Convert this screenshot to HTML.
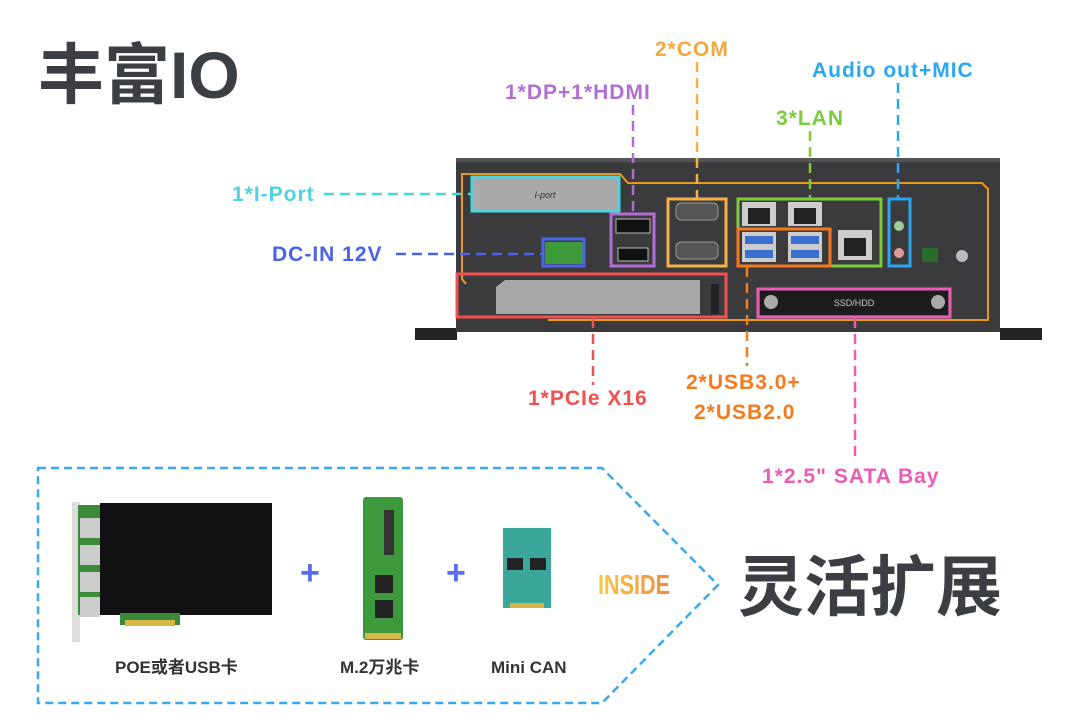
<!DOCTYPE html>
<html><head><meta charset="utf-8">
<style>
body{margin:0;width:1080px;height:720px;background:#fff;position:relative;overflow:hidden;font-family:"Liberation Sans","Noto Sans CJK SC",sans-serif}
.t{position:absolute;font-weight:bold;white-space:nowrap;line-height:1}
.l{font-size:21px;letter-spacing:1px}
</style></head><body>
<div class="t" style="left:38px;top:42px;font-size:66px;color:#3b3e42;letter-spacing:0px">丰富IO</div>

<svg width="1080" height="720" style="position:absolute;left:0;top:0">
 <rect x="415" y="328" width="42" height="12" fill="#222"/>
 <rect x="1000" y="328" width="42" height="12" fill="#222"/>
 <rect x="456" y="160" width="544" height="172" fill="#3b3b3d"/>
 <rect x="456" y="158" width="544" height="4" fill="#555"/>
 <polyline points="466,284 462,279 462,174 620,174 628,183 982,183 988,189 988,320 548,320" fill="none" stroke="#e89a1c" stroke-width="2"/>
 <rect x="472" y="177" width="147" height="34" fill="#a9a9a9"/>
 <text x="545" y="198" font-size="9" fill="#333" text-anchor="middle" font-style="italic" font-family="Liberation Sans">I-port</text>
 <rect x="545" y="242" width="38" height="22" fill="#3d9a3a"/>
 <rect x="616" y="219" width="34" height="14" fill="#111" stroke="#bbb"/>
 <rect x="618" y="248" width="30" height="13" fill="#111" stroke="#bbb"/>
 <rect x="676" y="203" width="42" height="17" rx="5" fill="#555" stroke="#999"/>
 <rect x="676" y="242" width="42" height="17" rx="5" fill="#555" stroke="#999"/>
 <rect x="742" y="202" width="34" height="24" fill="#ccc"/><rect x="748" y="208" width="22" height="16" fill="#222"/>
 <rect x="788" y="202" width="34" height="24" fill="#ccc"/><rect x="794" y="208" width="22" height="16" fill="#222"/>
 <rect x="838" y="230" width="34" height="30" fill="#ccc"/><rect x="844" y="238" width="22" height="18" fill="#222"/>
 <rect x="742" y="232" width="34" height="30" fill="#ccc"/><rect x="745" y="236" width="28" height="8" fill="#3a6fd0"/><rect x="745" y="250" width="28" height="8" fill="#3a6fd0"/>
 <rect x="788" y="232" width="34" height="30" fill="#ccc"/><rect x="791" y="236" width="28" height="8" fill="#3a6fd0"/><rect x="791" y="250" width="28" height="8" fill="#3a6fd0"/>
 <circle cx="899" cy="226" r="5" fill="#9c9"/><circle cx="899" cy="253" r="5" fill="#d99"/>
 <rect x="922" y="248" width="16" height="14" fill="#2a6a2a"/>
 <circle cx="962" cy="256" r="6" fill="#bbb"/>
 <polygon points="496,287 505,280 700,280 700,314 496,314" fill="#a8a8a8"/>
 <rect x="711" y="284" width="8" height="30" fill="#222"/>
 <rect x="760" y="290" width="188" height="25" fill="#1c1c1c"/>
 <circle cx="771" cy="302" r="7" fill="#aaa"/><circle cx="938" cy="302" r="7" fill="#aaa"/>
 <text x="854" y="306" font-size="9" fill="#ccc" text-anchor="middle" font-family="Liberation Sans">SSD/HDD</text>
 <g fill="none" stroke-width="3">
  <rect x="472" y="177" width="147" height="34" stroke="#4fd3de"/>
  <rect x="543" y="239" width="41" height="27" stroke="#4a63e8"/>
  <rect x="611" y="214" width="43" height="52" stroke="#b36ed6"/>
  <rect x="668" y="199" width="58" height="67" stroke="#f5b04a"/>
  <rect x="738" y="199" width="143" height="67" stroke="#7ccc3a"/>
  <rect x="738" y="229" width="92" height="37" stroke="#f47a20"/>
  <rect x="889" y="199" width="21" height="67" stroke="#2aa7f0"/>
  <rect x="457" y="274" width="269" height="43" stroke="#f0504f"/>
  <rect x="758" y="289" width="192" height="28" stroke="#ec5cb4"/>
 </g>
 <g fill="none" stroke-width="2.5" stroke-dasharray="10,6">
  <line x1="324" y1="194" x2="471" y2="194" stroke="#4fd3de"/>
  <line x1="396" y1="254" x2="542" y2="254" stroke="#4a63e8"/>
  <line x1="633" y1="105" x2="633" y2="213" stroke="#b36ed6"/>
  <line x1="697" y1="62" x2="697" y2="198" stroke="#f5b04a"/>
  <line x1="810" y1="131" x2="810" y2="198" stroke="#7ccc3a"/>
  <line x1="898" y1="83" x2="898" y2="198" stroke="#2aa7f0"/>
  <line x1="593" y1="318" x2="593" y2="385" stroke="#f0504f"/>
  <line x1="747" y1="267" x2="747" y2="366" stroke="#f47a20"/>
  <line x1="855" y1="318" x2="855" y2="462" stroke="#ec5cb4"/>
 </g>
 <polygon points="38,468 602,468 718,585 602,703 38,703" fill="none" stroke="#3aa8f0" stroke-width="2.5" stroke-dasharray="8,5"/>
 <rect x="72" y="502" width="8" height="140" fill="#ddd"/>
 <rect x="78" y="505" width="30" height="110" fill="#3a8a3a"/>
 <rect x="80" y="518" width="20" height="20" fill="#ccc"/><rect x="80" y="545" width="20" height="20" fill="#ccc"/><rect x="80" y="572" width="20" height="20" fill="#ccc"/><rect x="80" y="597" width="20" height="20" fill="#ccc"/>
 <rect x="100" y="503" width="172" height="112" fill="#111"/>
 <rect x="120" y="613" width="60" height="12" fill="#3a8a3a"/>
 <rect x="125" y="620" width="50" height="6" fill="#d9b84a"/>
 <rect x="363" y="497" width="40" height="143" rx="3" fill="#3c9a3c"/>
 <rect x="375" y="600" width="18" height="18" fill="#222"/><rect x="375" y="575" width="18" height="18" fill="#222"/><rect x="384" y="510" width="10" height="45" fill="#333"/>
 <rect x="365" y="633" width="36" height="6" fill="#d9b84a"/>
 <rect x="503" y="528" width="48" height="80" fill="#3aa79a"/>
 <rect x="507" y="558" width="16" height="12" fill="#222"/><rect x="530" y="558" width="16" height="12" fill="#222"/>
 <rect x="510" y="603" width="34" height="5" fill="#d9b84a"/>
 <defs><linearGradient id="g" x1="0" x2="1"><stop offset="0" stop-color="#f7c843"/><stop offset="1" stop-color="#f48b3a"/></linearGradient></defs>
 <text x="598" y="594" font-size="28" font-weight="bold" fill="url(#g)" font-family="Liberation Sans" textLength="72" lengthAdjust="spacingAndGlyphs">INSIDE</text>
</svg>

<div class="t l" style="left:655px;top:39px;color:#f5a742">2*COM</div>
<div class="t l" style="left:505px;top:82px;color:#b36ed6">1*DP+1*HDMI</div>
<div class="t l" style="left:812px;top:60px;color:#2aa7f0">Audio out+MIC</div>
<div class="t l" style="left:776px;top:108px;color:#7ccc3a">3*LAN</div>
<div class="t l" style="left:232px;top:184px;color:#4fd3de">1*I-Port</div>
<div class="t l" style="left:272px;top:244px;color:#4a63e8">DC-IN 12V</div>
<div class="t l" style="left:528px;top:388px;color:#f0504f">1*PCIe X16</div>
<div class="t l" style="left:686px;top:372px;color:#f47a20">2*USB3.0+</div>
<div class="t l" style="left:694px;top:402px;color:#f47a20">2*USB2.0</div>
<div class="t l" style="left:762px;top:466px;color:#ec5cb4">1*2.5" SATA Bay</div>
<div class="t" style="left:300px;top:556px;font-size:34px;color:#5a6cf0">+</div>
<div class="t" style="left:446px;top:556px;font-size:34px;color:#5a6cf0">+</div>
<div class="t" style="left:115px;top:659px;font-size:17px;color:#333">POE或者USB卡</div>
<div class="t" style="left:340px;top:659px;font-size:17px;color:#333">M.2万兆卡</div>
<div class="t" style="left:491px;top:659px;font-size:17px;color:#333">Mini CAN</div>
<div class="t" style="left:738px;top:554px;font-size:66px;color:#3b3e42">灵活扩展</div>
</body></html>
